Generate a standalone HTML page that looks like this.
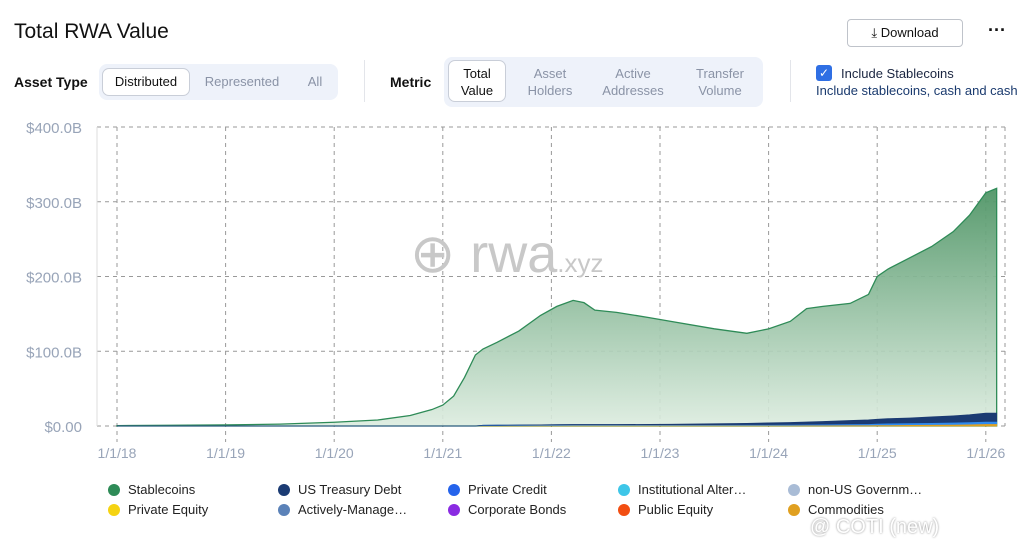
<!DOCTYPE html>
<html><head><meta charset="utf-8"><style>
body{margin:0;width:1024px;height:555px;background:#fff;font-family:"Liberation Sans",sans-serif;color:#111;position:relative;overflow:hidden}
.a{position:absolute}
.seg{background:#eef2fa;border-radius:8px}
.btn{position:absolute;font-size:13px;color:#8a93a6;text-align:center}
.sel{background:#fff;border:1px solid #c9ced8;border-radius:7px;color:#111}
.leg{position:absolute;font-size:13px;color:#222}
.leg i{position:absolute;left:-20px;top:2px;width:12px;height:12px;border-radius:50%}
</style></head><body>
<div class="a" style="left:14px;top:20px;font-size:21px">Total RWA Value</div>
<div class="a" style="left:847px;top:19px;width:114px;height:26px;border:1px solid #bfc3ca;border-radius:4px;font-size:13px;line-height:26px;text-align:center">⤓ Download</div>
<div class="a" style="left:988px;top:20px;font-size:18px;font-weight:bold">···</div>
<div class="a" style="left:14px;top:74px;font-size:14px;font-weight:bold">Asset Type</div>
<div class="a seg" style="left:99px;top:64px;width:239px;height:36px"></div>
<div class="btn sel" style="left:102px;top:68px;width:86px;height:26px;line-height:26px">Distributed</div>
<div class="btn" style="left:196px;top:74px;width:92px">Represented</div>
<div class="btn" style="left:300px;top:74px;width:30px">All</div>
<div class="a" style="left:364px;top:60px;width:1px;height:42px;background:#e3e5ea"></div>
<div class="a" style="left:390px;top:74px;font-size:14px;font-weight:bold">Metric</div>
<div class="a seg" style="left:444px;top:57px;width:319px;height:50px"></div>
<div class="btn sel" style="left:448px;top:60px;width:58px;height:42px;padding-top:4px;box-sizing:border-box;line-height:17px">Total<br>Value</div>
<div class="btn" style="left:515px;top:65px;width:70px;line-height:17px">Asset<br>Holders</div>
<div class="btn" style="left:592px;top:65px;width:82px;line-height:17px">Active<br>Addresses</div>
<div class="btn" style="left:680px;top:65px;width:80px;line-height:17px">Transfer<br>Volume</div>
<div class="a" style="left:790px;top:60px;width:1px;height:42px;background:#e3e5ea"></div>
<div class="a" style="left:816px;top:65px;width:16px;height:16px;background:#2f6fe4;border-radius:3px;color:#fff;font-size:12px;text-align:center;line-height:16px">✓</div>
<div class="a" style="left:841px;top:66px;font-size:13px;color:#1a2540">Include Stablecoins</div>
<div class="a" style="left:816px;top:83px;font-size:13px;color:#1a3a6e;white-space:nowrap">Include stablecoins, cash and cash</div>

<svg class="a" style="left:0;top:0" width="1024" height="470" id="chart">
<defs><linearGradient id="g" x1="0" y1="0" x2="0" y2="1"><stop offset="0" stop-color="#4f9566" stop-opacity="0.95"/><stop offset="1" stop-color="#dcecdf" stop-opacity="0.9"/></linearGradient></defs>
<g id="grid"></g><g id="areas"></g><g id="axes"></g>
<text x="410" y="272" font-size="54" fill="#c8c8c8" font-family="Liberation Sans">⊕ rwa<tspan font-size="26">.xyz</tspan></text>
</svg>

<div class="leg" style="left:128px;top:482px"><i style="background:#2e8b57"></i>Stablecoins</div>
<div class="leg" style="left:298px;top:482px"><i style="background:#1b3b73"></i>US Treasury Debt</div>
<div class="leg" style="left:468px;top:482px"><i style="background:#2563eb"></i>Private Credit</div>
<div class="leg" style="left:638px;top:482px"><i style="background:#3ec6e8"></i>Institutional Alter…</div>
<div class="leg" style="left:808px;top:482px"><i style="background:#a9bcd6"></i>non-US Governm…</div>
<div class="leg" style="left:128px;top:502px"><i style="background:#f5d312"></i>Private Equity</div>
<div class="leg" style="left:298px;top:502px"><i style="background:#5b82b8"></i>Actively-Manage…</div>
<div class="leg" style="left:468px;top:502px"><i style="background:#8a2be2"></i>Corporate Bonds</div>
<div class="leg" style="left:638px;top:502px"><i style="background:#f24e12"></i>Public Equity</div>
<div class="leg" style="left:808px;top:502px"><i style="background:#e0a020"></i>Commodities</div>
<div class="a" style="left:810px;top:516px;font-size:20px;color:#fff;text-shadow:0 0 2px #888">@ COTI (new)</div>

<script>
const dates=[2018,2018.5,2019,2019.5,2020,2020.4,2020.7,2020.9,2021,2021.1,2021.2,2021.3,2021.37,2021.5,2021.7,2021.9,2022.05,2022.2,2022.3,2022.4,2022.6,2022.9,2023.1,2023.5,2023.8,2024,2024.2,2024.35,2024.5,2024.75,2024.92,2025,2025.1,2025.3,2025.5,2025.7,2025.85,2026,2026.1];
const stablecoins=[0.5,1,1.5,2.5,5,8,14,22,28,40,65,95,103,112,127,148,160,168,165,155,152,145,140,130,124,130,140,157,160,164,176,200,210,225,240,260,282,312,318];
const treasury=[0,0,0,0,0,0,0,0,0,0,0,0,0,0,0,0,0.1,0.1,0.1,0.1,0.2,0.3,0.5,1,1.5,2,2.5,3,3.5,4.5,5,5.5,6,6.5,7.5,8.5,9.5,11,11];
const others=[0,0,0,0,0,0,0,0,0,0,0,0,0.5,0.5,0.6,0.7,0.8,0.8,0.8,0.8,0.8,0.8,0.8,0.9,1,1,1.1,1.2,1.3,1.5,1.7,2,2.2,2.4,2.6,2.8,3,3.2,3.2];
const commodities=[0,0,0,0,0,0,0,0,0,0,0,0,0.5,0.6,0.7,0.8,0.9,1,1,1,1,1,1,1,1,1.1,1.1,1.2,1.2,1.3,1.4,1.5,1.6,1.8,2,2.2,2.5,3,3];
const yTicks=[0,100,200,300,400];
const yLabels=["$0.00","$100.0B","$200.0B","$300.0B","$400.0B"];
const xTicks=[2018,2019,2020,2021,2022,2023,2024,2025,2026];
const xLabels=["1/1/18","1/1/19","1/1/20","1/1/21","1/1/22","1/1/23","1/1/24","1/1/25","1/1/26"];
const NS="http://www.w3.org/2000/svg";
const X=d=>117+(d-2018)*108.6, Y=v=>426-v*0.7475;
function mk(t,a,p){const e=document.createElementNS(NS,t);for(const k in a)e.setAttribute(k,a[k]);p.appendChild(e);return e;}
const grid=document.getElementById('grid'),areas=document.getElementById('areas'),axes=document.getElementById('axes');
yTicks.forEach((t,i)=>{
 const l=mk('line',{x1:97,x2:1005,y1:Y(t),y2:Y(t),stroke:'#999','stroke-dasharray':'4,4'},grid);
 
 
 const tx=mk('text',{x:82,y:Y(t)+6,'text-anchor':'end','font-size':15,fill:'#98a4b8'},axes);
 tx.textContent=yLabels[i];
 
 
});
xTicks.forEach((t,i)=>{
 const l=mk('line',{x1:X(t),x2:X(t),y1:127,y2:442,stroke:'#999','stroke-dasharray':'4,4'},grid);
 
 
 const tx=mk('text',{x:X(t),y:458,'text-anchor':'middle','font-size':14,fill:'#98a4b8'},axes);
 tx.textContent=xLabels[i];
 
 
});
mk('line',{x1:97,x2:97,y1:127,y2:426,stroke:'#ddd'},grid);
mk('line',{x1:1005,x2:1005,y1:127,y2:426,stroke:'#999','stroke-dasharray':'4,4'},grid);
function area(top,base,col,stroke,sw,name){
 let d='M'+dates.map((x,i)=>X(x)+','+Y(top[i])).join('L');
 for(let i=dates.length-1;i>=0;i--)d+='L'+X(dates[i])+','+Y(base[i]);
 const p=mk('path',{d:d+'Z',fill:col,stroke:stroke,'stroke-width':sw},areas);
 
 
}
const zero=dates.map(()=>0);
area(stablecoins,zero,'url(#g)','#2e8b57',1.3,'area-stablecoins');
const series=[[commodities,'#e0a020','area-commodities'],[others,'#2f8bf0','area-other'],[treasury,'#1b3b73','area-us-treasury']];
let base=zero;
series.forEach(([vals,col,name])=>{
 const top=vals.map((v,i)=>base[i]+v);
 area(top,base,col,col,0.8,name);
 base=top;
});
</script>
</body></html>
